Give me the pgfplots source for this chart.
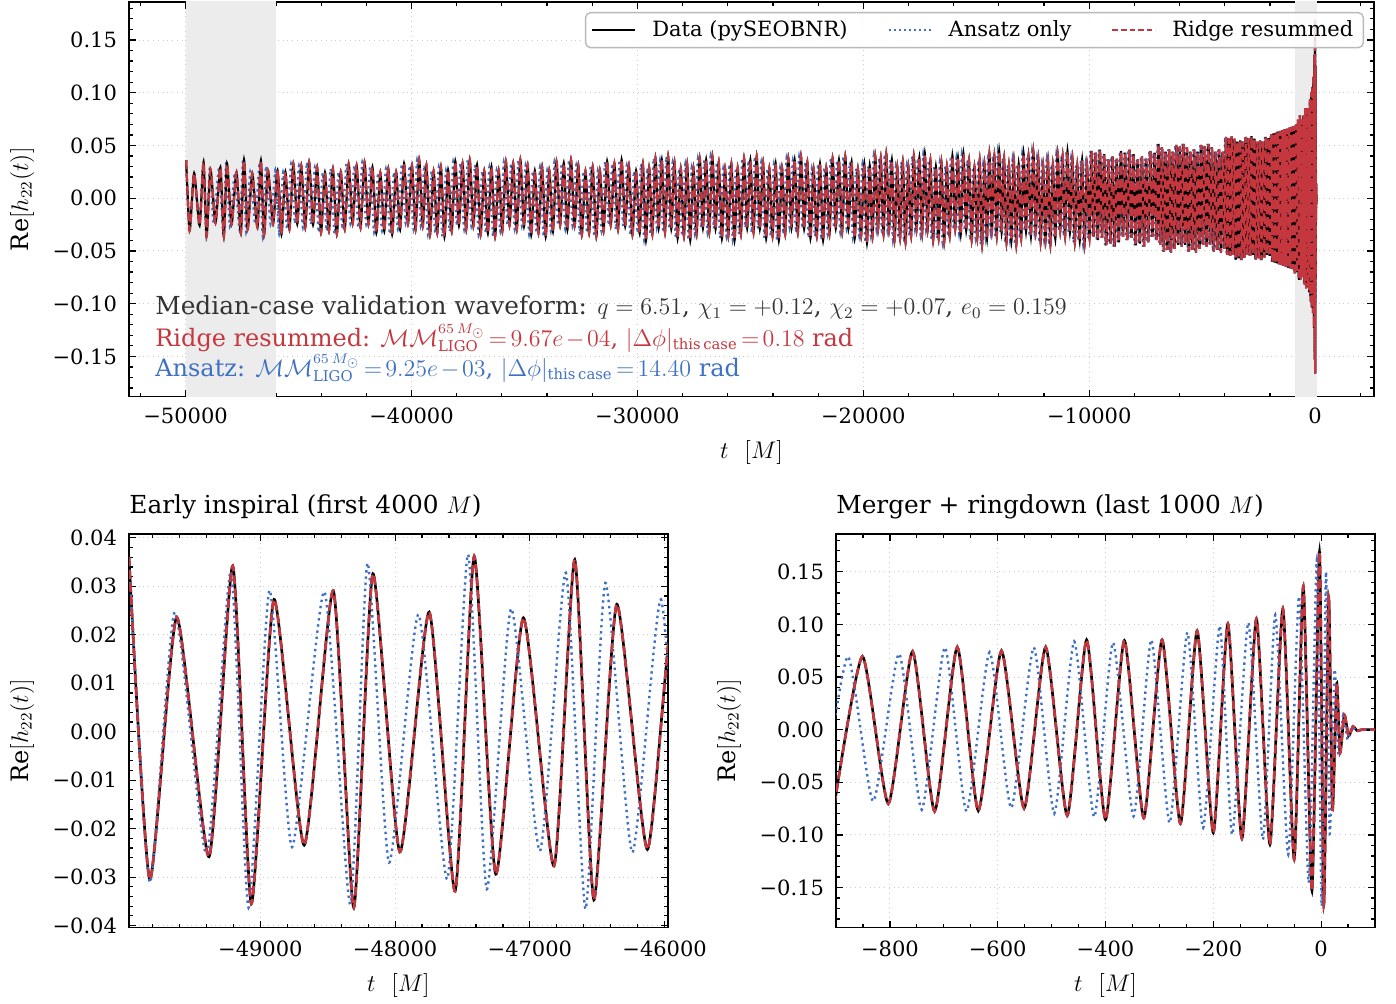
\documentclass[border=0pt]{standalone}
\usepackage{fontspec}
\setmainfont{DejaVu Serif}
\usepackage{pgfplots}
\usepackage{pgfplotstable}
\pgfplotsset{compat=1.18}
\DeclareMathSizes{12.4}{12}{7.6}{6}
\DeclareMathSizes{12}{11.6}{7.4}{6}
\definecolor{cred}{RGB}{197,55,62}
\definecolor{cblue}{RGB}{62,113,195}
\definecolor{band}{RGB}{236,236,236}

\pgfplotstableread{
t y
-49975 0.0360
-49821 -0.0305
-49621 0.0236
-49381 -0.0258
-49205 0.0342
-49067 -0.0355
-48899 0.0273
-48675 -0.0234
-48459 0.0291
-48307 -0.0363
-48165 0.0326
-47965 -0.0248
-47747 0.0247
-47555 -0.0329
-47413 0.0362
-47253 -0.0294
-47048 0.0235
-46821 -0.0277
-46667 0.0355
-46525 -0.0347
-46355 0.0263
-46128 -0.0243
-45930 0.0262
-45755 -0.0341
}\earlydata

\pgfplotstableread{
t y
-49975 0.0360
-49821 -0.0311
-49635 0.0247
-49400 -0.0253
-49219 0.0331
-49088 -0.0363
-48933 0.0292
-48765 -0.0238
-48525 0.0289
-48333 -0.0356
-48205 0.0348
-48045 -0.0270
-47827 0.0242
-47613 -0.0304
-47459 0.0366
-47320 -0.0325
-47139 0.0254
-46925 -0.0246
-46733 0.0328
-46587 -0.0366
-46440 0.0307
-46240 -0.0249
-46027 0.0273
-45860 -0.0341
}\earlyans

\pgfplotstableread{
t ta y
-45930 -46030 0.0262
-45755 -45860 -0.0341
-45580 -45685 0.0248
-45405 -45510 -0.0295
-45230 -45335 0.0326
-45055 -45160 -0.0242
-44880 -44985 0.0310
-44705 -44810 -0.0279
-44530 -44635 0.0341
-44355 -44460 -0.0248
-44180 -44285 0.0295
-44005 -44110 -0.0326
-43830 -43935 0.0242
-43655 -43760 -0.0310
-43480 -43585 0.0279
-43305 -43410 -0.0341
-43130 -43235 0.0248
-42955 -43060 -0.0295
-42780 -42885 0.0326
-42605 -42710 -0.0242
-42430 -42535 0.0310
-42255 -42360 -0.0279
-42080 -42185 0.0341
-41905 -42010 -0.0248
-41730 -41835 0.0295
-41555 -41660 -0.0326
-41380 -41485 0.0242
-41205 -41310 -0.0310
-41030 -41135 0.0279
-40855 -40960 -0.0341
-40680 -40785 0.0248
-40505 -40610 -0.0295
-40330 -40435 0.0326
-40155 -40260 -0.0242
-39980 -40085 0.0310
-39820 -39915 -0.0297
-39660 -39755 0.0363
-39500 -39595 -0.0264
-39340 -39435 0.0314
-39180 -39275 -0.0347
-39020 -39115 0.0257
-38860 -38955 -0.0330
-38700 -38795 0.0297
-38540 -38635 -0.0363
-38380 -38475 0.0264
-38220 -38315 -0.0314
-38060 -38155 0.0347
-37900 -37995 -0.0257
-37740 -37835 0.0330
-37580 -37675 -0.0297
-37420 -37515 0.0363
-37260 -37355 -0.0264
-37100 -37195 0.0314
-36940 -37035 -0.0347
-36780 -36875 0.0257
-36620 -36715 -0.0330
-36460 -36555 0.0297
-36300 -36395 -0.0363
-36140 -36235 0.0264
-35980 -36075 -0.0314
-35820 -35915 0.0347
-35660 -35755 -0.0257
-35500 -35595 0.0330
-35340 -35435 -0.0297
-35180 -35275 0.0363
-35020 -35115 -0.0264
-34860 -34955 0.0314
-34700 -34795 -0.0347
-34540 -34635 0.0257
-34380 -34475 -0.0330
-34220 -34315 0.0297
-34060 -34155 -0.0363
-33900 -33995 0.0264
-33740 -33835 -0.0314
-33580 -33675 0.0347
-33420 -33515 -0.0257
-33260 -33355 0.0330
-33100 -33195 -0.0297
-32940 -33035 0.0363
-32780 -32875 -0.0264
-32620 -32715 0.0314
-32460 -32555 -0.0347
-32300 -32395 0.0257
-32140 -32235 -0.0330
-31980 -32075 0.0297
-31820 -31915 -0.0363
-31660 -31755 0.0264
-31500 -31595 -0.0314
-31340 -31435 0.0347
-31180 -31275 -0.0257
-31020 -31115 0.0330
-30860 -30955 -0.0297
-30700 -30795 0.0363
-30540 -30635 -0.0264
-30380 -30475 0.0314
-30220 -30315 -0.0347
-30060 -30155 0.0257
-29900 -29995 -0.0330
-29760 -29845 0.0324
-29620 -29705 -0.0396
-29480 -29565 0.0288
-29340 -29425 -0.0342
-29200 -29285 0.0378
-29060 -29145 -0.0281
-28920 -29005 0.0360
-28780 -28865 -0.0324
-28640 -28725 0.0396
-28500 -28585 -0.0288
-28360 -28445 0.0342
-28220 -28305 -0.0378
-28080 -28165 0.0281
-27940 -28025 -0.0360
-27800 -27885 0.0324
-27660 -27745 -0.0396
-27520 -27605 0.0288
-27380 -27465 -0.0342
-27240 -27325 0.0378
-27100 -27185 -0.0281
-26960 -27045 0.0360
-26820 -26905 -0.0324
-26680 -26765 0.0396
-26540 -26625 -0.0288
-26400 -26485 0.0342
-26260 -26345 -0.0378
-26120 -26205 0.0281
-25980 -26065 -0.0360
-25840 -25925 0.0324
-25700 -25785 -0.0396
-25560 -25645 0.0288
-25420 -25505 -0.0342
-25280 -25365 0.0378
-25140 -25225 -0.0281
-25000 -25085 0.0360
-24860 -24945 -0.0324
-24720 -24805 0.0396
-24580 -24665 -0.0288
-24440 -24525 0.0342
-24300 -24385 -0.0378
-24160 -24245 0.0281
-24020 -24105 -0.0360
-23880 -23965 0.0324
-23740 -23825 -0.0396
-23600 -23685 0.0288
-23460 -23545 -0.0342
-23320 -23405 0.0378
-23180 -23265 -0.0281
-23040 -23125 0.0360
-22900 -22985 -0.0324
-22760 -22845 0.0396
-22620 -22705 -0.0288
-22480 -22565 0.0342
-22340 -22425 -0.0378
-22200 -22285 0.0281
-22060 -22145 -0.0360
-21920 -22005 0.0324
-21780 -21865 -0.0396
-21640 -21725 0.0288
-21500 -21585 -0.0342
-21360 -21445 0.0378
-21220 -21305 -0.0281
-21080 -21165 0.0360
-20940 -21025 -0.0324
-20800 -20885 0.0396
-20660 -20745 -0.0288
-20520 -20605 0.0342
-20380 -20465 -0.0378
-20240 -20325 0.0281
-20100 -20185 -0.0360
-19960 -20045 0.0324
-19838 -19913 -0.0418
-19716 -19791 0.0304
-19594 -19669 -0.0361
-19472 -19547 0.0399
-19350 -19425 -0.0296
-19228 -19303 0.0380
-19106 -19181 -0.0342
-18984 -19059 0.0418
-18862 -18937 -0.0304
-18740 -18815 0.0361
-18618 -18693 -0.0399
-18496 -18571 0.0296
-18374 -18449 -0.0380
-18252 -18327 0.0342
-18130 -18205 -0.0418
-18008 -18083 0.0304
-17886 -17961 -0.0361
-17764 -17839 0.0399
-17642 -17717 -0.0296
-17520 -17595 0.0380
-17398 -17473 -0.0342
-17276 -17351 0.0418
-17154 -17229 -0.0304
-17032 -17107 0.0361
-16910 -16985 -0.0399
-16788 -16863 0.0296
-16666 -16741 -0.0380
-16544 -16619 0.0342
-16422 -16497 -0.0418
-16300 -16375 0.0304
-16178 -16253 -0.0361
-16056 -16131 0.0399
-15934 -16009 -0.0296
-15812 -15887 0.0380
-15690 -15765 -0.0342
-15568 -15643 0.0418
-15446 -15521 -0.0304
-15324 -15399 0.0361
-15202 -15277 -0.0399
-15080 -15155 0.0296
-14958 -15033 -0.0380
-14850 -14915 0.0360
-14742 -14807 -0.0440
-14634 -14699 0.0320
-14526 -14591 -0.0380
-14418 -14483 0.0420
-14310 -14375 -0.0312
-14202 -14267 0.0400
-14094 -14159 -0.0360
-13986 -14051 0.0440
-13878 -13943 -0.0320
-13770 -13835 0.0380
-13662 -13727 -0.0420
-13554 -13619 0.0312
-13446 -13511 -0.0400
-13338 -13403 0.0360
-13230 -13295 -0.0440
-13122 -13187 0.0320
-13014 -13079 -0.0380
-12906 -12971 0.0420
-12798 -12863 -0.0312
-12690 -12755 0.0400
-12582 -12647 -0.0360
-12474 -12539 0.0440
-12366 -12431 -0.0320
-12258 -12323 0.0380
-12150 -12215 -0.0420
-12042 -12107 0.0312
-11934 -11999 -0.0400
-11826 -11891 0.0360
-11718 -11783 -0.0440
-11610 -11675 0.0320
-11502 -11567 -0.0380
-11394 -11459 0.0420
-11286 -11351 -0.0312
-11178 -11243 0.0400
-11070 -11135 -0.0360
-10962 -11027 0.0440
-10854 -10919 -0.0320
-10746 -10811 0.0380
-10638 -10703 -0.0420
-10530 -10595 0.0312
-10422 -10487 -0.0400
-10314 -10379 0.0360
-10206 -10271 -0.0440
-10098 -10163 0.0320
-9990 -10055 -0.0380
-9897 -9952 0.0447
-9804 -9859 -0.0366
-9711 -9766 0.0430
-9618 -9673 -0.0396
-9525 -9580 0.0460
-9432 -9487 -0.0374
-9339 -9394 0.0417
-9246 -9301 -0.0447
-9153 -9208 0.0366
-9060 -9115 -0.0430
-8967 -9022 0.0396
-8874 -8929 -0.0460
-8781 -8836 0.0374
-8688 -8743 -0.0417
-8595 -8650 0.0447
-8502 -8557 -0.0366
-8409 -8464 0.0430
-8316 -8371 -0.0396
-8223 -8278 0.0460
-8130 -8185 -0.0374
-8037 -8092 0.0417
-7944 -7999 -0.0447
-7851 -7906 0.0366
-7758 -7813 -0.0430
-7665 -7720 0.0396
-7572 -7627 -0.0460
-7479 -7534 0.0374
-7386 -7441 -0.0417
-7293 -7348 0.0447
-7200 -7255 -0.0366
-7107 -7162 0.0430
-7014 -7069 -0.0396
-6935 -6982 0.0515
-6856 -6903 -0.0441
-6777 -6824 0.0480
-6698 -6745 -0.0505
-6619 -6666 0.0441
-6540 -6587 -0.0490
-6461 -6508 0.0461
-6382 -6429 -0.0515
-6303 -6350 0.0441
-6224 -6271 -0.0480
-6145 -6192 0.0505
-6066 -6113 -0.0441
-5987 -6034 0.0490
-5908 -5955 -0.0461
-5829 -5876 0.0515
-5750 -5797 -0.0441
-5671 -5718 0.0480
-5592 -5639 -0.0505
-5513 -5560 0.0441
-5434 -5481 -0.0490
-5355 -5402 0.0461
-5276 -5323 -0.0515
-5197 -5244 0.0441
-5118 -5165 -0.0480
-5039 -5086 0.0505
-4960 -5007 -0.0441
-4881 -4928 0.0490
-4802 -4849 -0.0461
-4723 -4770 0.0515
-4644 -4691 -0.0441
-4565 -4612 0.0480
-4486 -4533 -0.0505
-4407 -4454 0.0441
-4328 -4375 -0.0490
-4249 -4296 0.0461
-4170 -4217 -0.0515
-4091 -4138 0.0441
-4012 -4059 -0.0480
-3949 -3987 0.0581
-3886 -3924 -0.0536
-3823 -3861 0.0570
-3760 -3798 -0.0547
-3697 -3735 0.0587
-3634 -3672 -0.0536
-3571 -3609 0.0564
-3508 -3546 -0.0581
-3445 -3483 0.0536
-3382 -3420 -0.0570
-3319 -3357 0.0547
-3256 -3294 -0.0587
-3193 -3231 0.0536
-3130 -3168 -0.0564
-3067 -3105 0.0581
-3004 -3042 -0.0536
-2941 -2979 0.0570
-2878 -2916 -0.0547
-2815 -2853 0.0587
-2752 -2790 -0.0536
-2689 -2727 0.0564
-2626 -2664 -0.0581
-2563 -2601 0.0536
-2500 -2538 -0.0570
-2437 -2475 0.0547
-2374 -2412 -0.0587
-2311 -2349 0.0536
-2248 -2286 -0.0564
-2185 -2223 0.0581
-2122 -2160 -0.0536
-2059 -2097 0.0570
-1996 -2034 -0.0547
-1946 -1976 0.0605
-1896 -1926 -0.0600
-1846 -1876 0.0615
-1796 -1826 -0.0610
-1746 -1776 0.0622
-1696 -1726 -0.0618
-1646 -1676 0.0630
-1596 -1626 -0.0626
-1546 -1576 0.0638
-1496 -1526 -0.0634
-1446 -1476 0.0645
-1396 -1426 -0.0642
-1346 -1376 0.0652
-1296 -1326 -0.0650
-1246 -1276 0.0660
-1196 -1226 -0.0658
-1146 -1176 0.0668
-1096 -1126 -0.0665
-1046 -1076 0.0675
-996 -1026 -0.0672
-946 -976 0.0682
-896 -926 -0.0690
}\middata

\pgfplotstableread{
t y
-903 -0.0712
-851 0.0696
-803 -0.0703
-758 0.0744
-717 -0.0775
-675 0.0785
-636 -0.0770
-593 0.0750
-551 -0.0747
-511 0.0785
-471 -0.0816
-435 0.0854
-400 -0.0854
-365 0.0848
-329 -0.0839
-295 0.0854
-261 -0.0892
-230 0.0940
-200 -0.0980
-173 0.1006
-147 -0.1035
-120 0.1054
-95 -0.1090
-71 0.1150
-50 -0.1230
-33 0.1360
-17 -0.1530
-3 0.1690
5 -0.1660
14 0.1260
21 -0.0760
29 0.0440
35 -0.0220
43 0.0140
51 -0.0060
59 0.0030
67 -0.0010
75 0.0000
100 0.0000
}\mergerdata

\pgfplotstableread{
t y
-925 -0.0680
-878 0.0696
-831 -0.0680
-783 0.0722
-741 -0.0760
-698 0.0782
-658 -0.0775
-615 0.0737
-575 -0.0744
-533 0.0782
-495 -0.0797
-458 0.0839
-421 -0.0829
-386 0.0829
-348 -0.0823
-315 0.0854
-281 -0.0886
-248 0.0924
-219 -0.0934
-188 0.0987
-165 -0.0997
-135 0.1019
-108 -0.1044
-85 0.1092
-61 -0.1187
-41 0.1266
-23 -0.1456
-8 0.1614
1 -0.1677
9 0.1500
16 -0.0990
25 0.0570
32 -0.0250
41 0.0140
49 -0.0095
57 0.0030
65 -0.0010
75 0.0000
100 0.0000
}\mergerans

\pgfplotsset{
  panel/.style={
    scale only axis, clip=true, scaled ticks=false,
    axis line style={line width=0.8pt},
    every tick/.style={line width=0.6pt, black},
    major tick length=3.5pt, minor tick length=2pt,
    tick align=inside,
    grid=major, grid style={dotted, line width=0.45pt, gray!40},
    ticklabel style={font=\fontsize{10.5}{12}\selectfont},
    label style={font=\fontsize{12.4}{14}\selectfont},
    yticklabel style={xshift=-2.5pt},
    xlabel style={at={(axis description cs:0.5,0)}, anchor=center},
    ylabel style={at={(axis description cs:0,0.5)}, anchor=center, yshift=53.5pt},
    title style={at={(axis description cs:0,1)}, anchor=base west, inner sep=0pt,
      yshift=4.4pt, font=\fontsize{12.4}{14}\selectfont},
  },
  dline/.style={black, line width=1.3pt, smooth, tension=0.36, forget plot},
  aline/.style={cblue, line width=1.2pt, dash pattern=on 1.2pt off 1.9pt, smooth, tension=0.36, forget plot},
  rline/.style={cred, line width=1.3pt, dash pattern=on 4.5pt off 2pt, smooth, tension=0.36, forget plot},
  bandfill/.style={fill=band, draw=none, forget plot},
}

\begin{document}
\begin{tikzpicture}
\path[use as bounding box] (0,0) rectangle (698pt,501.5pt);

% ---------------- top panel ----------------
\begin{axis}[panel,
  at={(64.5pt,303.25pt)}, anchor=south west, width=622.5pt, height=197.25pt,
  xmin=-52505, xmax=2605, ymin=-0.188, ymax=0.186,
  xtick={-50000,-40000,-30000,-20000,-10000,0},
  xticklabels={−50000,−40000,−30000,−20000,−10000,0},
  minor xtick={-52000,-50000,...,2000},
  ytick={-0.15,-0.1,-0.05,0,0.05,0.1,0.15},
  yticklabels={−0.15,−0.10,−0.05,0.00,0.05,0.10,0.15},
  minor ytick={-0.18,-0.17,...,0.18},
  xticklabel style={yshift=-2.4pt},
  xlabel={$t\ \ [M]$}, ylabel={$\mathrm{Re}[h_{22}(t)]$},
  xlabel style={yshift=-27.75pt},
  legend columns=3,
  legend cell align=left,
  legend image code/.code={\draw[#1] (0pt,0pt) -- (21.5pt,0pt);},
  legend style={at={(1,1)}, anchor=north east, xshift=-5pt, yshift=-5pt,
    draw=gray!55, line width=0.7pt, rounded corners=2.5pt, fill=white,
    fill opacity=0.85, text opacity=1, inner xsep=3pt, inner ysep=2pt,
    font=\fontsize{10.5}{12}\selectfont,
    /tikz/every odd column/.append style={column sep=6pt},
    /tikz/every even column/.append style={column sep=18pt}},
]
\addplot[bandfill] coordinates {(-50000,-0.3) (-46000,-0.3) (-46000,0.3) (-50000,0.3)};
\addplot[bandfill] coordinates {(-900,-0.3) (100,-0.3) (100,0.3) (-900,0.3)};
\addlegendimage{black, line width=0.9pt}
\addlegendentry{Data (pySEOBNR)}
\addlegendimage{cblue, line width=1pt, dash pattern=on 1pt off 1.5pt}
\addlegendentry{Ansatz only}
\addlegendimage{cred, line width=0.9pt, dash pattern=on 2.8pt off 1.5pt}
\addlegendentry{Ridge resummed}
\addplot[aline, line width=1pt] table[x=t,y=y] {\earlyans};
\addplot[aline, line width=1pt] table[x=ta,y=y] {\middata};
\addplot[aline, line width=1pt] table[x=t,y=y] {\mergerans};
\addplot[dline, line width=1.1pt] table[x=t,y=y] {\earlydata};
\addplot[dline, line width=1.1pt] table[x=t,y=y] {\middata};
\addplot[dline, line width=1.1pt] table[x=t,y=y] {\mergerdata};
\addplot[rline, line width=1.1pt] table[x=t,y=y] {\earlydata};
\addplot[rline, line width=1.1pt] table[x=t,y=y] {\middata};
\addplot[rline, line width=1.1pt] table[x=t,y=y] {\mergerdata};
\node[anchor=base west, inner sep=0pt, font=\fontsize{12.4}{14}\selectfont, text=black!80]
  at (rel axis cs:0,0) [xshift=13pt, yshift=40.75pt]
  {Median-case validation waveform: $q=6.51$, $\chi_1=+0.12$, $\chi_2=+0.07$, $e_0=0.159$};
\node[anchor=base west, inner sep=0pt, font=\fontsize{12}{14}\selectfont, text=cred]
  at (rel axis cs:0,0) [xshift=13pt, yshift=25.25pt]
  {\thickmuskip=2.5mu\medmuskip=2mu Ridge resummed: $\mathcal{MM}^{65\,M_\odot}_{\mathrm{LIGO}}=9.67e-04$, $|\Delta\phi|_{\mathrm{this\,case}}=0.18$ rad};
\node[anchor=base west, inner sep=0pt, font=\fontsize{12}{14}\selectfont, text=cblue]
  at (rel axis cs:0,0) [xshift=13pt, yshift=10.25pt]
  {\thickmuskip=2.5mu\medmuskip=2mu Ansatz: $\mathcal{MM}^{65\,M_\odot}_{\mathrm{LIGO}}=9.25e-03$, $|\Delta\phi|_{\mathrm{this\,case}}=14.40$ rad};
\end{axis}

% ---------------- bottom left ----------------
\begin{axis}[panel,
  at={(64.5pt,37.75pt)}, anchor=south west, width=269.5pt, height=196.75pt,
  xmin=-49975, xmax=-45975, ymin=-0.0404, ymax=0.0408,
  xtick={-49000,-48000,-47000,-46000},
  xticklabels={−49000,−48000,−47000,−46000},
  minor xtick={-49800,-49600,...,-46000},
  ytick={-0.04,-0.03,-0.02,-0.01,0,0.01,0.02,0.03,0.04},
  yticklabels={−0.04,−0.03,−0.02,−0.01,0.00,0.01,0.02,0.03,0.04},
  minor ytick={-0.04,-0.038,...,0.04},
  xticklabel style={yshift=-3pt},
  xlabel={$t\ \ [M]$}, ylabel={$\mathrm{Re}[h_{22}(t)]$},
  xlabel style={yshift=-29pt},
  title={Early inspiral (first 4000 $M$)},
]
\addplot[dline] table[x=t,y=y] {\earlydata};
\addplot[aline] table[x=t,y=y] {\earlyans};
\addplot[rline] table[x=t,y=y] {\earlydata};
\end{axis}

% ---------------- bottom right ----------------
\begin{axis}[panel,
  at={(418pt,37.75pt)}, anchor=south west, width=269.5pt, height=196.75pt,
  xmin=-900, xmax=100, ymin=-0.188, ymax=0.186,
  xtick={-800,-600,-400,-200,0},
  xticklabels={−800,−600,−400,−200,0},
  minor xtick={-900,-850,...,100},
  ytick={-0.15,-0.1,-0.05,0,0.05,0.1,0.15},
  yticklabels={−0.15,−0.10,−0.05,0.00,0.05,0.10,0.15},
  minor ytick={-0.18,-0.17,...,0.18},
  xticklabel style={yshift=-3pt},
  xlabel={$t\ \ [M]$}, ylabel={$\mathrm{Re}[h_{22}(t)]$},
  xlabel style={yshift=-29pt},
  title={Merger + ringdown (last 1000 $M$)},
]
\addplot[dline] table[x=t,y=y] {\mergerdata};
\addplot[aline] table[x=t,y=y] {\mergerans};
\addplot[rline] table[x=t,y=y] {\mergerdata};
\end{axis}
\end{tikzpicture}
\end{document}
